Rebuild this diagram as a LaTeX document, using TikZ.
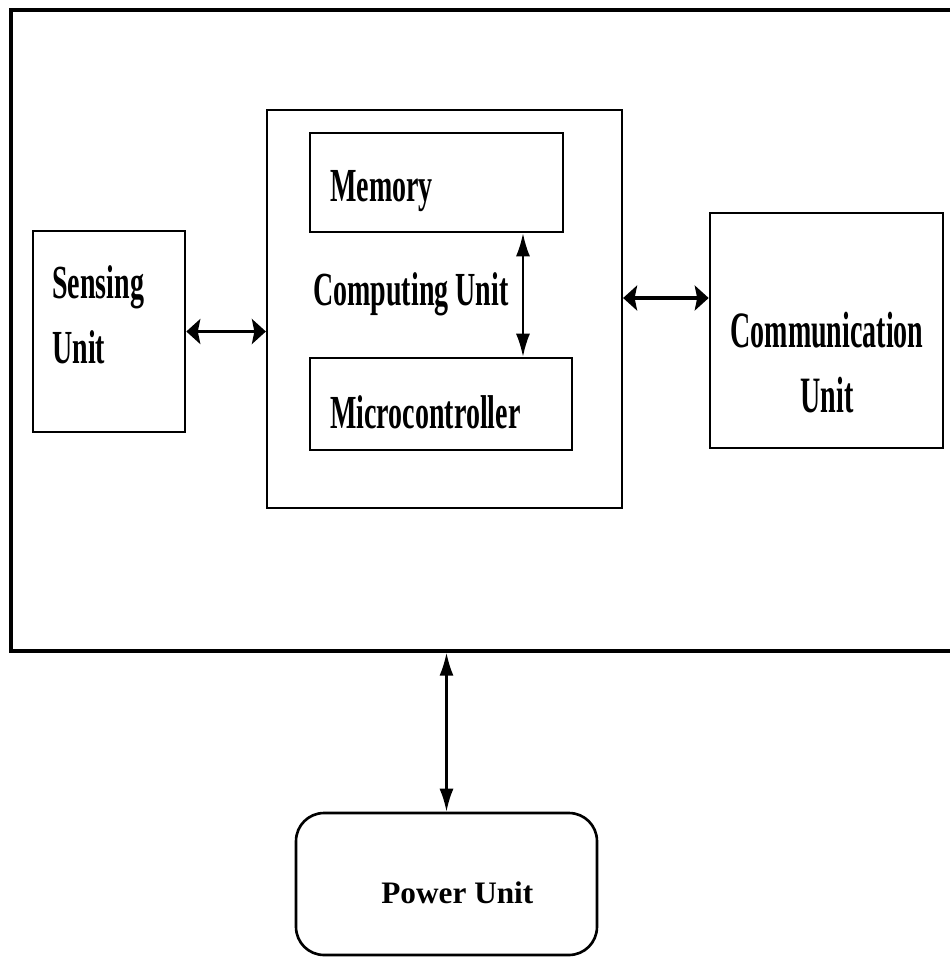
\documentclass[tikz,border=0pt]{standalone}
\usepackage{fontspec}
\setmainfont{Liberation Serif}
\newfontfamily\narrowfont[FakeStretch=0.59]{Liberation Serif}
\newfontfamily\tallfont[FakeStretch=0.55]{Liberation Serif}
\usepackage{tikz}
\usetikzlibrary{arrows.meta,positioning,calc}

\begin{document}
\begin{tikzpicture}[x=0.02cm,y=-0.02cm,
  unitbox/.style={draw,line width=1.5pt,inner sep=0pt},
  unitlabel/.style={inner sep=0pt,anchor=base west,align=left,
    font=\narrowfont\bfseries\fontsize{27}{37}\selectfont},
  wide/.style={<->,>={Stealth[length=0.28cm,width=0.5cm,inset=0.05cm]},line width=1.8pt},
  slim/.style={<->,>={Latex[length=0.46cm,width=0.28cm]},line width=1.1pt}]
  \useasboundingbox (0,0) rectangle (950,958);
  % outer node box, right side runs off the page
  \node[unitbox,line width=1.9pt,minimum width=18.88cm,minimum height=12.82cm] (node) at (483,330.5) {};
  \node[unitbox,minimum width=3.04cm,minimum height=4.02cm] (sense) at (109,331.5) {};
  \node[unitbox,line width=1.3pt,minimum width=7.1cm,minimum height=7.96cm] (comp) at (444.5,309) {};
  \node[unitbox,minimum width=5.06cm,minimum height=1.98cm] (mem) at (436.5,182.5) {};
  \node[unitbox,minimum width=5.24cm,minimum height=1.84cm] (micro) at (441,404) {};
  \node[unitbox,minimum width=4.66cm,minimum height=4.7cm] (comm) at (826.5,330.5) {};
  \node[unitbox,rounded corners=0.56cm,minimum width=6.02cm,minimum height=2.84cm] (power) at (446.5,884) {};
  % labels (base = last line)
  \node[unitlabel] (sensetxt) at (52,363) {Sensing\\Unit};
  \node[unitlabel] (memtxt) at (330,201) {Memory};
  \node[unitlabel] (comptxt) at (313,305) {Computing Unit};
  \node[unitlabel] (microtxt) at (330,428) {Microcontroller};
  \node[unitlabel,anchor=base,align=center,font=\tallfont\bfseries\fontsize{29}{37}\selectfont] (commtxt) at (827,412) {Communication\\Unit};
  \node[inner sep=0pt,anchor=base west,font=\bfseries\fontsize{17.8}{20}\selectfont] (powertxt) at (381,903) {Power Unit};
  % links
  \draw[wide] (sense.east) -- (sense.east -| comp.west);
  \draw[wide] ([yshift=0.22cm]comp.east) -- ([yshift=0.22cm]comp.east -| comm.west);
  \draw[slim] ([xshift=1.73cm]mem.south) -- ([xshift=1.73cm]mem.south |- micro.north);
  \draw[slim,line width=1.3pt] (power.north) -- (power.north |- node.south);
\end{tikzpicture}
\end{document}
